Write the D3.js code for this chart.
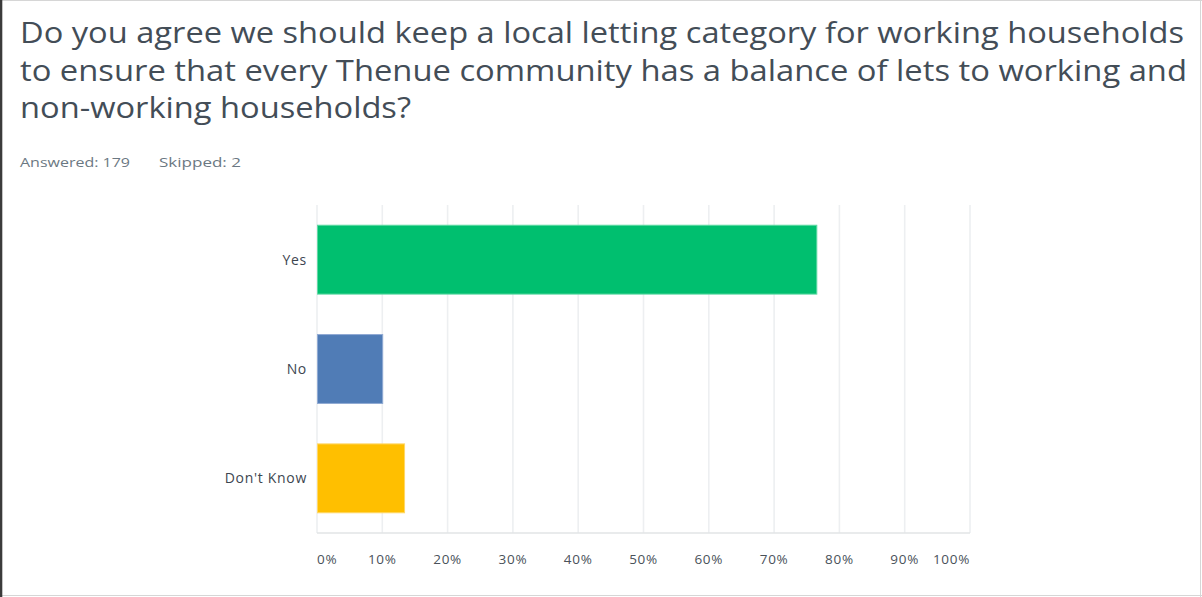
<!DOCTYPE html>
<html>
<head>
<meta charset="utf-8">
<script src="https://cdn.jsdelivr.net/npm/d3@7"></script>
<style>
  html, body { margin: 0; padding: 0; background: #ffffff; }
  svg { display: block; }
</style>
</head>
<body>
<div id="chart"></div>
<script>
// Survey question, response counts and answer breakdown
const titleLines = [
  "Do you agree we should keep a local letting category for working households",
  "to ensure that every Thenue community has a balance of lets to working and",
  "non-working households?"
];
const answered = 179;
const skipped = 2;

const categories = ["Yes", "No", "Don't Know"];
const percentages = [76.54, 10.06, 13.41];
const barColors = ["#00bf6f", "#507cb6", "#ffbf00"];
const barStrokes = ["#5fd9a4", "#8fa9d3", "#ffd766"];
const tickValues = [0, 10, 20, 30, 40, 50, 60, 70, 80, 90, 100];
const tickLabels = ["0%", "10%", "20%", "30%", "40%", "50%", "60%", "70%", "80%", "90%", "100%"];

const W = 1202, H = 597;
const svg = d3.select("#chart").append("svg")
  .attr("width", W).attr("height", H);

// Frame
svg.append("rect").attr("x", 0).attr("y", 0).attr("width", W).attr("height", H).attr("fill", "#ffffff");
svg.append("line").attr("x1", 0).attr("x2", W).attr("y1", 0.5).attr("y2", 0.5).attr("stroke", "#d6d6d6");
svg.append("line").attr("x1", 0).attr("x2", W).attr("y1", 595.5).attr("y2", 595.5).attr("stroke", "#d6d6d6");
svg.append("line").attr("x1", 1200.5).attr("x2", 1200.5).attr("y1", 0).attr("y2", H).attr("stroke", "#d6d6d6");
svg.append("rect").attr("x", 0).attr("y", 0).attr("width", 2.3).attr("height", H).attr("fill", "#3b3b3b");

// Title
const titleWidths = [1164, 1167, 391];
const title = svg.append("g")
  .attr("font-family", "'Open Sans', sans-serif")
  .attr("font-size", 30)
  .attr("fill", "#434d57");
titleLines.forEach((t, i) => {
  title.append("text")
    .attr("x", 20)
    .attr("y", 43 + i * 37.5)
    .attr("textLength", titleWidths[i])
    .attr("lengthAdjust", "spacingAndGlyphs")
    .text(t);
});

// Response summary
const meta = svg.append("g")
  .attr("font-family", "'Open Sans', sans-serif")
  .attr("font-size", 13.5)
  .attr("fill", "#6b7882");
meta.append("text").attr("x", 20).attr("y", 167).attr("textLength", 110).attr("lengthAdjust", "spacingAndGlyphs").text("Answered: " + answered);
meta.append("text").attr("x", 159).attr("y", 167).attr("textLength", 82).attr("lengthAdjust", "spacingAndGlyphs").text("Skipped: " + skipped);

// Scales
const x = d3.scaleLinear().domain([0, 100]).range([317, 970]);
const y = d3.scaleBand().domain(categories).range([205, 533])
  .paddingInner(0.37).paddingOuter(0.185);

// Gridlines
svg.append("g").selectAll("line")
  .data(tickValues)
  .join("line")
  .attr("x1", d => x(d)).attr("x2", d => x(d))
  .attr("y1", 205).attr("y2", 533)
  .attr("stroke", "#edeff1")
  .attr("stroke-width", 1.6);

// Baseline along the bottom of the plot
svg.append("line")
  .attr("x1", x(0)).attr("x2", x(100))
  .attr("y1", 533).attr("y2", 533)
  .attr("stroke", "#e2e4e6")
  .attr("stroke-width", 1.5);

// Bars
svg.append("g").selectAll("rect")
  .data(categories)
  .join("rect")
  .attr("x", x(0) + 0.5)
  .attr("y", d => y(d))
  .attr("width", (d, i) => x(percentages[i]) - x(0) - 0.5)
  .attr("height", y.bandwidth())
  .attr("fill", (d, i) => barColors[i])
  .attr("stroke", (d, i) => barStrokes[i])
  .attr("stroke-width", 1);

// Category labels
svg.append("g").selectAll("text")
  .data(categories)
  .join("text")
  .attr("x", 307)
  .attr("y", d => y(d) + y.bandwidth() / 2)
  .attr("dy", "0.35em")
  .attr("text-anchor", "end")
  .attr("font-family", "'Open Sans', sans-serif")
  .attr("font-size", 14)
  .attr("letter-spacing", 0.7)
  .attr("fill", "#3d4650")
  .text(d => d);

// Percentage axis labels
svg.append("g").selectAll("text")
  .data(tickValues)
  .join("text")
  .attr("x", d => x(d))
  .attr("y", 564)
  .attr("text-anchor", (d, i) => i === 0 ? "start" : (i === tickValues.length - 1 ? "end" : "middle"))
  .attr("font-family", "'Open Sans', sans-serif")
  .attr("font-size", 13.5)
  .attr("letter-spacing", 0.7)
  .attr("fill", "#4a525a")
  .text((d, i) => tickLabels[i]);
</script>
</body>
</html>
